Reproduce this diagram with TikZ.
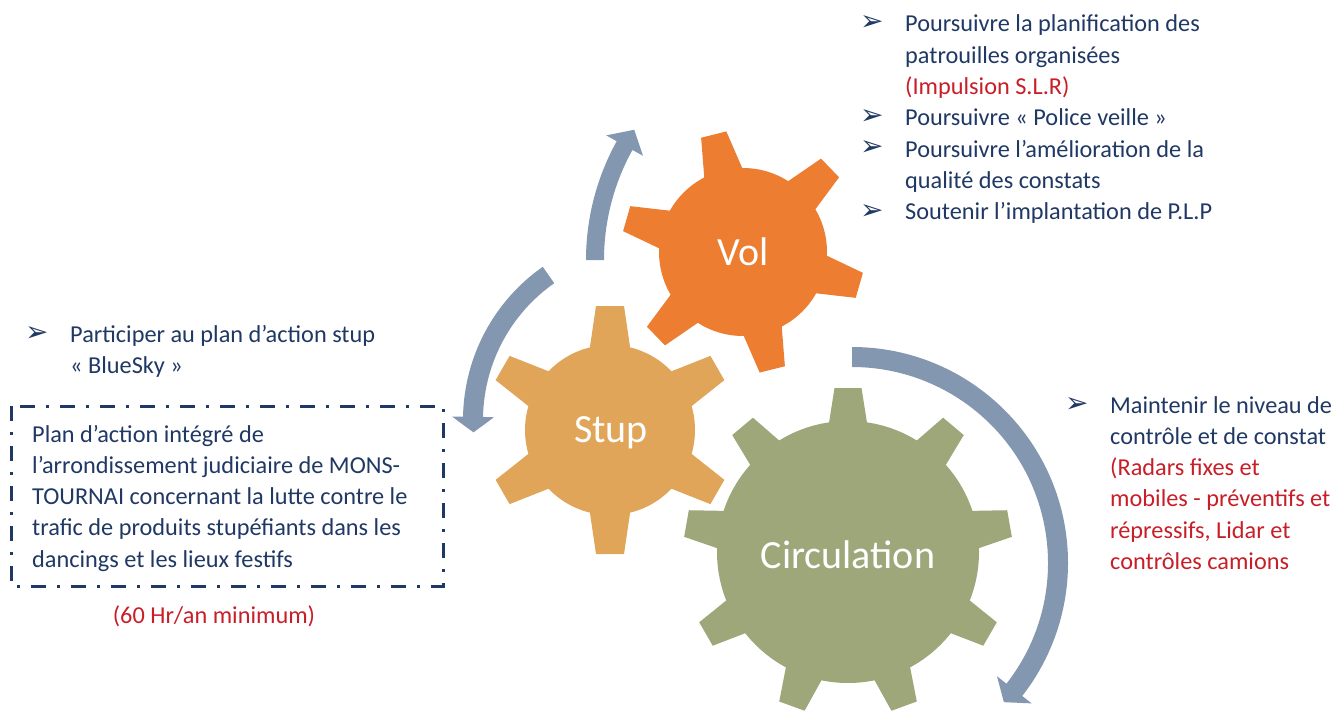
\documentclass[tikz,border=0pt]{standalone}
\usepackage{fontspec}
\setmainfont{Carlito}
\newfontfamily\symfont{DejaVu Sans}
\definecolor{navy}{RGB}{31,56,100}
\definecolor{redtxt}{RGB}{200,30,40}
\definecolor{volc}{RGB}{237,125,49}
\definecolor{stupc}{RGB}{224,165,88}
\definecolor{circc}{RGB}{157,167,122}
\definecolor{arrowc}{RGB}{132,151,176}
\newcommand\mygear[9]{%
 \begin{scope}[shift={(#1,-#2)}]
  \fill[#9] (0,0) circle[radius=#3];
  \pgfmathsetmacro\gstepang{360/#5}
  \foreach \k in {1,...,#5}{
    \fill[#9, rotate={#6+\k*\gstepang}] ({#3-5},{-#8}) -- (#4,{-#7}) -- (#4,#7) -- ({#3-5},#8) -- cycle;
  }
 \end{scope}}
\newcommand\myarrow[8]{%
 \begin{scope}[shift={(#1,-#2)}]
 \fill[arrowc] ({#5}:{#3+#4}) arc[start angle=#5,end angle=#6,radius={#3+#4}]
   -- ({#6}:{#3+#8}) -- ({#7}:{#3}) -- ({#6}:{#3-#8}) -- ({#6}:{#3-#4})
   arc[start angle=#6,end angle=#5,radius={#3-#4}] -- cycle;
 \end{scope}}
% lines of text: x, first baseline (pixels from top), name, list of lines
\newcommand\textlines[4]{%
  \foreach \t [count=\i] in {#4}{
    \node[bodytxt] (#3-\i) at (#1,{-#2-(\i-1)*31.3}) {\t};
  }}
\begin{document}
\begin{tikzpicture}[x=1pt,y=1pt,
  bodytxt/.style={font=\fontsize{24.3}{31.3}\selectfont, text=navy, inner sep=0pt, anchor=base west},
  bul/.style={font=\symfont\fontsize{28}{30}\selectfont, text=navy, inner sep=0pt, anchor=base west},
  gearlbl/.style={font=\fontsize{40}{44}\selectfont, text=white, inner sep=0pt, anchor=base},
  framebox/.style={draw=navy, line width=3pt, dash pattern=on 15pt off 11pt on 3pt off 11pt}]
\useasboundingbox (0,0) rectangle (1337,-722);
% gears
\mygear{848}{552}{131}{164}{9}{50}{13.5}{19.5}{circc}
\mygear{610}{430}{85}{124}{6}{30}{14}{20.5}{stupc}
\mygear{743}{252}{84}{121}{6}{44}{13}{20}{volc}
\node[gearlbl] (vol) at (743,-265) {Vol};
\node[gearlbl] (stup) at (611,-442) {Stup};
\node[gearlbl] (circ) at (848,-568) {Circulation};
% circular arrows
\myarrow{831}{260}{236}{9}{180}{151}{146.5}{21}
\myarrow{650}{420}{177}{10}{125}{179}{184}{21}
\myarrow{852}{563}{206}{10}{90}{-38}{-42.5}{22}
% top right list
\node[bul] (b1) at (860,-31) {➢};
\node[bul] (b2) at (860,-125) {➢};
\node[bul] (b3) at (860,-156) {➢};
\node[bul] (b4) at (860,-219) {➢};
\textlines{905}{32}{tvol}{Poursuivre la planification des, patrouilles organisées, \textcolor{redtxt}{(Impulsion S.L.R)}, Poursuivre « Police veille », Poursuivre l’amélioration de la, qualité des constats, Soutenir l’implantation de P.L.P}
% left list
\node[bul] (b5) at (25,-341) {➢};
\textlines{70}{342}{tstup}{Participer au plan d’action stup, « BlueSky »}
\draw[framebox] (11,-406) rectangle (443,-586);
\textlines{32}{442}{tbox}{Plan d’action intégré de, l’arrondissement judiciaire de MONS-, TOURNAI concernant la lutte contre le, trafic de produits stupéfiants dans les, dancings et les lieux festifs}
\node[bodytxt, anchor=base, text=redtxt] (tmin) at (214,-623) {(60 Hr/an minimum)};
% right list
\node[bul] (b6) at (1065,-412) {➢};
\textlines{1110}{413}{tcirc}{Maintenir le niveau de, contrôle et de constat, \textcolor{redtxt}{(Radars fixes et}, \textcolor{redtxt}{mobiles - préventifs et}, {\textcolor{redtxt}{répressifs, Lidar et}}, \textcolor{redtxt}{contrôles camions}}
\end{tikzpicture}
\end{document}
